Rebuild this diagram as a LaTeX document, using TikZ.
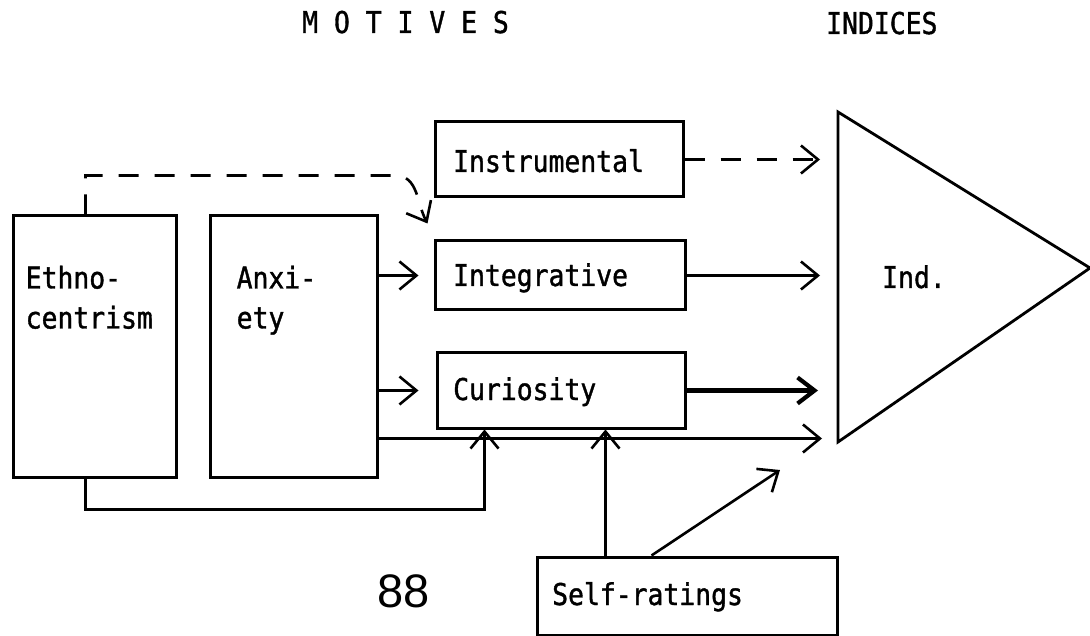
\documentclass[tikz,border=0pt]{standalone}
\usepackage{fontspec}
\setmainfont{DejaVu Sans}
\newfontfamily\typed[FakeStretch=0.88,FakeBold=1.2]{DejaVu Sans Mono}
\newfontfamily\pagenum{Liberation Sans}
\usetikzlibrary{arrows.meta,calc}

\begin{document}
\begin{tikzpicture}[x=1pt,y=-1pt,
  box/.style={draw,line width=3pt,inner sep=0pt},
  typetext/.style={font=\typed\fontsize{30}{40}\selectfont,inner sep=0pt,align=left},
  barb/.style={-{Straight Barb[length=17pt,width=28pt]}},
  arr/.style={barb,line width=2.6pt},
  dasharr/.style={barb,line width=2.6pt,dash pattern=on 20pt off 16pt},
  thickarr/.style={-{Straight Barb[length=17pt,width=26pt]},line width=4.2pt}
]
\useasboundingbox (0,0) rectangle (1090,636);

% column headings
\node[typetext,anchor=base west] (hmot) at (302,33) {M O T I V E S};
\node[typetext,anchor=base west] (hind) at (826,34) {INDICES};

% motive boxes
\node[box,minimum width=163pt,minimum height=261pt] (ethno) at (94.5,346.5) {};
\node[box,minimum width=167pt,minimum height=261pt] (anx) at (293.5,346.5) {};
\node[typetext,anchor=north west] (ethnot) at ($(ethno.north west)+(14,51)$) {Ethno-\\centrism};
\node[typetext,anchor=north west] (anxt) at ($(anx.north west)+(28,51)$) {Anxi-\\ety};

\node[box,minimum width=248pt,minimum height=75pt] (instr) at (559,159.5) {};
\node[box,minimum width=250pt,minimum height=69pt] (integ) at (560,275.5) {};
\node[box,minimum width=248pt,minimum height=75pt] (curio) at (561,390.5) {};
\node[box,minimum width=300pt,minimum height=78pt] (self) at (687,596) {};

\node[typetext,anchor=base west] (instrt) at (453,172) {Instrumental};
\node[typetext,anchor=base west] (integt) at (453,286) {Integrative};
\node[typetext,anchor=base west] (curiot) at (453,400) {Curiosity};
\node[typetext,anchor=base west] (selft) at (552,605) {Self-ratings};

% indices triangle
\coordinate (tri-nw) at (838,112);
\coordinate (tri-sw) at (838,442);
\coordinate (tri-tip) at (1090,268);
\draw[line width=2.8pt,line join=miter] (tri-nw) -- (tri-tip) -- (tri-sw) -- cycle;
\node[typetext,anchor=base west] (ind) at (882,288) {Ind.};

% page number
\node[font=\pagenum\fontsize{47}{47}\selectfont,anchor=base west,inner sep=0pt] (pg) at (377,607) {88};

% ethnocentrism to integrative (dashed)
\coordinate (dashend) at ($(integ.north west)+(-6,-16)$);
\draw[dasharr] ($(ethno.north west)+(74,0)$) |- ($(integ.north west)+(-38,-64)$)
  to[out=0,in=118] (dashend);

% anxiety to integrative and curiosity
\draw[arr] (anx.east |- integ.west) -- ([xshift=-15pt]integ.west);
\draw[arr] (anx.east |- curio.west) -- ([xshift=-17pt]curio.west);

% motives to indices
\draw[dasharr] (instr.east) -- ([xshift=-18pt]tri-nw |- instr.east);
\draw[arr] (integ.east) -- ([xshift=-18pt]tri-nw |- integ.east);
\draw[thickarr] (curio.east) -- ([xshift=-20pt]tri-nw |- curio.east);
\coordinate (longstart) at ($(anx.north east)+(0,224)$);
\draw[arr] (longstart) -- ([xshift=-16pt]tri-nw |- longstart);

% ethnocentrism to curiosity
\draw[arr] ($(ethno.south west)+(74,0)$) -- ++(0,31) -| ($(curio.south west)+(49,0)$);

% self-ratings to curiosity and indices
\draw[arr] ($(self.north west)+(70,0)$) -- ($(curio.south west)+(170,0)$);
\coordinate (srtip) at ($(tri-sw)+(-58,28)$);
\draw[arr] ($(self.north west)+(116,0)$) -- (srtip);
\end{tikzpicture}
\end{document}
